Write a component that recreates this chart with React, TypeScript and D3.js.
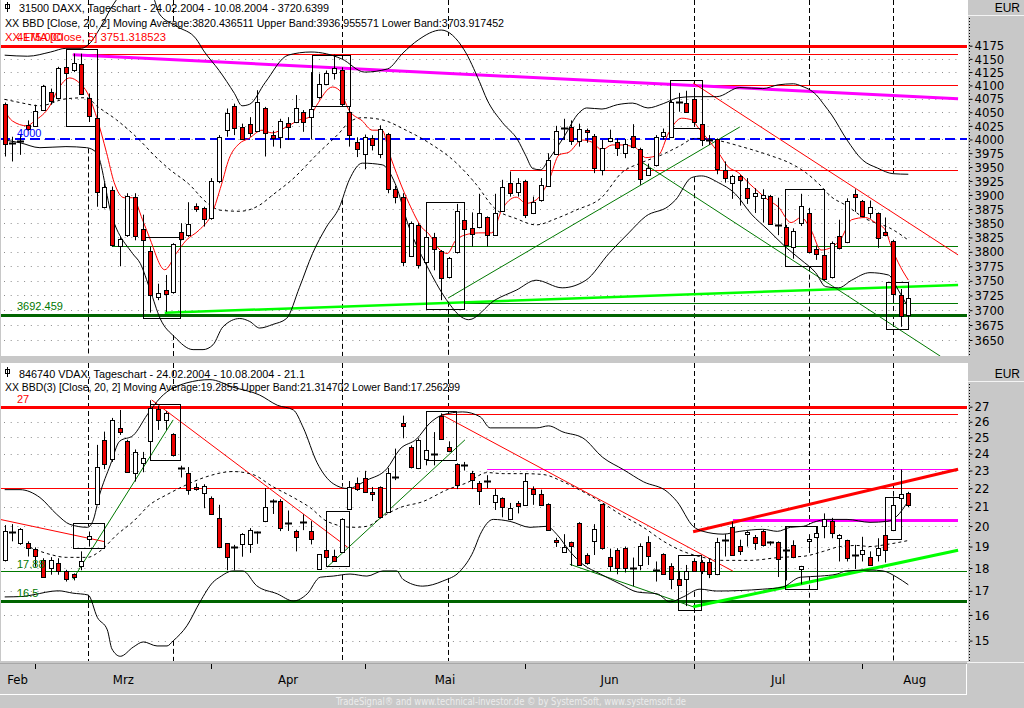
import React, { useEffect, useRef } from 'react';
import * as d3 from 'd3';

// DAX daily candles [open, high, low, close], 24.02.2004 - 10.08.2004
const daxOhlc: number[][] = [
  [4066, 4068, 3969, 3992], [3992, 4005, 3960, 3993], [3997, 4008, 3972, 3998], [4026, 4035, 4016, 4018],
  [4025, 4064, 4024, 4053], [4055, 4101, 4054, 4099], [4087, 4094, 4064, 4071], [4076, 4135, 4074, 4132],
  [4135, 4142, 4115, 4124], [4128, 4160, 4125, 4142], [4141, 4160, 4082, 4085], [4076, 4085, 4032, 4042],
  [4039, 4043, 3879, 3904], [3879, 3921, 3876, 3915], [3908, 3915, 3809, 3811], [3811, 3826, 3775, 3823],
  [3829, 3903, 3826, 3898], [3897, 3903, 3820, 3829], [3839, 3865, 3814, 3820], [3802, 3809, 3696, 3727],
  [3723, 3745, 3717, 3730], [3734, 3760, 3697, 3727], [3730, 3815, 3728, 3813], [3835, 3850, 3820, 3823],
  [3828, 3887, 3826, 3848], [3880, 3885, 3870, 3874], [3876, 3879, 3844, 3857], [3859, 3930, 3856, 3924],
  [3925, 4008, 3921, 4005], [4016, 4057, 4005, 4048], [4062, 4066, 4008, 4022], [4022, 4029, 3999, 4000],
  [4029, 4041, 4005, 4013], [4016, 4091, 4014, 4069], [4057, 4060, 3969, 4011], [4009, 4016, 3987, 4004],
  [4004, 4038, 3984, 4033], [4031, 4041, 3999, 4023], [4032, 4082, 4030, 4058], [4051, 4054, 4014, 4032],
  [4041, 4125, 4000, 4056], [4077, 4122, 4075, 4102], [4104, 4128, 4101, 4124], [4123, 4158, 4111, 4132],
  [4128, 4134, 4060, 4065], [4050, 4060, 3987, 4007], [3996, 4004, 3968, 3983], [3974, 4009, 3946, 4005],
  [4002, 4008, 3980, 3989], [3975, 4026, 3966, 4020], [4010, 4012, 3903, 3911], [3911, 3916, 3885, 3896],
  [3896, 3903, 3775, 3782], [3792, 3853, 3791, 3850], [3846, 3850, 3771, 3777], [3782, 3827, 3780, 3825],
  [3825, 3833, 3768, 3804], [3802, 3803, 3717, 3756], [3757, 3791, 3754, 3790], [3800, 3884, 3797, 3872],
  [3855, 3860, 3838, 3839], [3842, 3869, 3809, 3832], [3843, 3902, 3841, 3868], [3860, 3862, 3809, 3829],
  [3830, 3902, 3828, 3868], [3872, 3927, 3870, 3914], [3921, 3942, 3897, 3903], [3905, 3930, 3897, 3921],
  [3924, 3927, 3859, 3864], [3868, 3897, 3866, 3888], [3891, 3930, 3888, 3917], [3917, 3975, 3915, 3963],
  [3974, 4025, 3972, 4016], [4020, 4038, 3999, 4021], [4022, 4035, 3990, 3997], [3998, 4029, 3987, 4020],
  [4017, 4020, 3994, 4013], [4007, 4010, 3939, 3948], [3946, 3999, 3935, 3985], [3996, 4018, 3995, 4002],
  [3996, 4002, 3970, 3985], [3975, 4001, 3966, 3991], [4007, 4028, 3984, 3987], [3983, 3985, 3918, 3928],
  [3935, 3956, 3934, 3948], [3954, 4008, 3951, 4005], [4005, 4020, 4000, 4013], [4005, 4072, 4003, 4069],
  [4068, 4086, 4051, 4069], [4068, 4090, 4050, 4052], [4075, 4089, 4023, 4033], [4028, 4029, 3988, 3999],
  [3998, 4008, 3990, 3999], [4000, 4002, 3937, 3945], [3944, 3960, 3922, 3930], [3921, 3936, 3893, 3934],
  [3933, 3936, 3881, 3925], [3912, 3930, 3884, 3894], [3897, 3912, 3868, 3903], [3894, 3910, 3851, 3899],
  [3898, 3900, 3847, 3849], [3849, 3895, 3829, 3846], [3844, 3847, 3811, 3813], [3809, 3841, 3788, 3837],
  [3850, 3902, 3845, 3880], [3868, 3877, 3797, 3800], [3805, 3811, 3786, 3797], [3795, 3797, 3750, 3754],
  [3756, 3818, 3754, 3815], [3828, 3856, 3804, 3807], [3817, 3894, 3815, 3890], [3902, 3910, 3870, 3896],
  [3890, 3891, 3862, 3863], [3868, 3890, 3858, 3878], [3868, 3869, 3807, 3824], [3834, 3860, 3827, 3829],
  [3819, 3821, 3720, 3727], [3726, 3736, 3672, 3690], [3692, 3722, 3689, 3720.64],
];

// VDAX daily candles [open, high, low, close]
const vdaxOhlc: number[][] = [
  [18.38, 20.05, 18.3, 19.76], [19.68, 20.1, 19.25, 19.7], [19.16, 19.9, 19.08, 19.85], [19.16, 19.25, 18.53, 18.9],
  [18.88, 18.96, 18.06, 18.53], [18.38, 18.45, 17.6, 17.62], [18.0, 18.5, 17.7, 18.38], [18.22, 18.45, 17.7, 17.87],
  [17.87, 17.92, 17.4, 17.5], [17.72, 17.76, 17.45, 17.57], [18.09, 18.77, 17.9, 18.33], [19.37, 19.73, 19.0, 19.52],
  [21.18, 24.53, 21.15, 23.22], [24.82, 25.36, 23.08, 23.36], [23.66, 26.25, 23.5, 26.11], [25.6, 26.78, 25.15, 25.32],
  [24.8, 24.85, 22.9, 22.96], [22.9, 24.25, 22.37, 24.12], [23.46, 24.1, 22.9, 23.76], [24.78, 27.44, 24.74, 26.89],
  [26.84, 27.06, 25.47, 26.14], [26.1, 26.7, 25.47, 26.56], [25.2, 25.26, 23.82, 23.92], [23.15, 23.28, 22.6, 23.16],
  [22.88, 23.2, 21.64, 21.9], [22.07, 22.27, 21.86, 21.95], [21.78, 22.22, 20.92, 22.14], [21.49, 21.55, 20.57, 20.66],
  [20.42, 21.1, 18.92, 19.0], [19.16, 19.16, 17.9, 18.5], [18.99, 19.08, 17.9, 19.0], [19.12, 19.65, 18.52, 19.6],
  [19.13, 19.9, 18.7, 19.8], [19.69, 19.73, 19.13, 19.7], [20.24, 22.0, 20.2, 20.96], [21.3, 21.4, 20.62, 21.31],
  [21.3, 21.4, 19.75, 19.9], [20.15, 20.8, 19.76, 20.17], [19.76, 19.82, 18.77, 19.44], [20.15, 20.6, 19.8, 20.22],
  [19.77, 20.25, 19.1, 19.38], [17.96, 18.63, 17.96, 18.63], [18.85, 18.85, 18.15, 18.5], [18.57, 18.85, 18.34, 18.34],
  [18.77, 20.4, 18.77, 20.37], [20.86, 22.4, 20.83, 22.04], [22.3, 22.6, 21.85, 21.98], [22.58, 22.98, 21.75, 21.82],
  [21.78, 22.07, 21.3, 21.67], [22.06, 22.1, 20.4, 20.45], [20.75, 23.15, 20.7, 22.87], [22.6, 24.3, 22.45, 22.62],
  [25.92, 26.4, 24.94, 25.75], [24.37, 24.5, 23.12, 23.16], [23.16, 24.94, 23.08, 24.84], [23.68, 24.5, 23.3, 24.22],
  [23.98, 25.33, 23.3, 24.0], [26.4, 26.55, 24.84, 24.94], [24.42, 24.75, 24.08, 24.16], [23.36, 23.42, 21.95, 22.18],
  [23.31, 23.5, 23.0, 23.32], [22.88, 22.98, 21.95, 22.46], [22.3, 22.4, 21.09, 21.86], [22.38, 22.73, 22.0, 22.4],
  [21.2, 21.95, 20.83, 21.6], [21.45, 21.5, 20.45, 20.95], [20.38, 21.2, 20.3, 20.95], [21.18, 21.3, 20.65, 21.03],
  [21.09, 22.85, 21.09, 22.42], [21.95, 22.1, 21.1, 21.7], [21.7, 21.92, 21.1, 21.13], [21.13, 21.18, 19.77, 19.79],
  [19.33, 19.42, 18.98, 19.22], [18.74, 19.6, 18.7, 19.0], [19.22, 19.24, 18.1, 19.03], [20.15, 20.2, 18.11, 18.14],
  [18.6, 18.68, 18.15, 18.22], [19.25, 20.1, 18.6, 19.85], [21.13, 21.15, 18.85, 18.9], [18.5, 18.9, 17.85, 18.1],
  [18.84, 18.92, 17.72, 18.0], [18.95, 19.0, 17.8, 18.0], [17.92, 18.48, 17.2, 18.0], [18.14, 19.15, 17.9, 19.04],
  [19.24, 19.5, 18.14, 18.57], [17.91, 18.3, 17.4, 17.92], [18.63, 18.68, 17.7, 17.72], [18.1, 18.22, 17.07, 17.5],
  [17.53, 17.87, 17.22, 17.27], [17.53, 18.14, 16.36, 17.87], [18.32, 18.45, 17.83, 17.87], [18.28, 18.36, 17.73, 17.87],
  [18.28, 18.41, 17.55, 17.75], [17.7, 19.42, 17.68, 19.2], [19.22, 19.6, 18.53, 19.3], [19.97, 20.22, 18.56, 18.6],
  [19.04, 19.33, 18.6, 18.8], [19.6, 19.75, 19.0, 19.7], [19.47, 19.56, 18.84, 19.2], [19.75, 19.8, 19.0, 19.08],
  [19.2, 19.25, 19.05, 19.21], [19.2, 19.25, 17.6, 18.42], [18.84, 19.95, 17.45, 18.85], [19.08, 19.3, 18.45, 18.5],
  [17.96, 18.1, 17.28, 18.1], [19.25, 19.6, 18.7, 19.37], [19.48, 20.0, 19.4, 19.68], [20.0, 20.65, 19.4, 20.34],
  [20.26, 20.42, 19.4, 19.65], [19.37, 19.6, 18.3, 19.54], [19.3, 19.33, 18.3, 18.43], [18.58, 19.08, 17.96, 18.59],
  [18.64, 19.47, 18.3, 18.85], [18.5, 18.77, 18.1, 18.14], [18.64, 19.4, 18.3, 18.95], [19.54, 19.6, 18.25, 18.81],
  [19.79, 21.55, 19.75, 21.09], [21.5, 23.05, 21.2, 21.7], [21.75, 21.8, 20.98, 21.1],
];

// indicator lines: [day index, value]
const daxUpper = [
  [0, 4157], [3, 4155], [6, 4163], [8, 4170], [10, 4170], [11, 4178], [12.5, 4210], [14, 4250], [16, 4285], [18, 4290],
  [19.5, 4265], [20.2, 4236], [22.5, 4212], [25, 4188], [26, 4165], [28, 4128], [30, 4085], [31, 4062], [32, 4065],
  [34, 4105], [37, 4157], [40, 4163], [44, 4150], [47, 4125], [50, 4131], [52, 4161], [54, 4186], [57, 4205],
  [60, 4167], [62, 4107], [63, 4073], [65, 4031], [67, 3999], [68, 3972], [69, 3947], [70, 3945], [71, 3963],
  [73, 4004], [75, 4049], [76, 4058], [78, 4056], [80, 4064], [82, 4067], [84, 4058], [86, 4066], [88, 4077],
  [90, 4079], [93, 4079], [96, 4096], [99, 4094], [101, 4101], [103, 4103], [104, 4099], [106, 4082], [107, 4064],
  [108, 4045], [110, 3999], [112, 3963], [114, 3948], [116, 3938], [118, 3936.96],
];
const daxMiddle = [
  [0, 4074], [2, 4068], [4.6, 4062], [8, 4075], [10.7, 4077], [12, 4062], [14.6, 4036], [17.6, 3999], [19.6, 3970],
  [21.6, 3945], [24, 3920], [26.5, 3885], [28.1, 3873], [30.7, 3871], [33.3, 3882], [35, 3900], [37.5, 3927],
  [41, 3976], [43.7, 4012], [45, 4032], [46.7, 4040],
  [49.3, 4036], [52.4, 4017], [55.4, 3994], [59, 3957], [61.5, 3920], [64, 3876], [66.8, 3858], [69.4, 3847],
  [72, 3858], [74.6, 3873], [78, 3896], [80.6, 3940], [83, 3957], [85.8, 3972], [88, 3987], [90.2, 4002],
  [92.8, 3999], [96.2, 3987], [99.7, 3972], [102.7, 3956], [104.6, 3940], [106.3, 3920], [108, 3896], [109.8, 3882],
  [112.4, 3858], [115.8, 3840], [118, 3820.44],
];
const daxLower = [
  [0, 3999], [2, 3994], [4.6, 3985], [8, 3987], [10.7, 3985], [12, 3976], [14, 3862], [16.7, 3797], [17.7, 3780],
  [19, 3734], [20.3, 3686], [22.2, 3655], [24.6, 3634], [25.9, 3634], [27.2, 3642], [28.5, 3672], [30.7, 3686],
  [32, 3681], [33.3, 3670], [35, 3676], [36.8, 3686], [38.5, 3739],
  [40.2, 3797], [42, 3843], [43.7, 3878], [45, 3927], [46.7, 3957], [49.3, 3954], [51, 3920], [52.8, 3843],
  [55.4, 3769], [58, 3712], [59.7, 3688], [60.6, 3684], [64, 3717], [66.8, 3734], [69.4, 3751], [72.8, 3738],
  [75.9, 3751], [78.9, 3797], [81.5, 3833], [83.7, 3862], [86.7, 3880], [87.6, 3891], [89.7, 3931], [91, 3934],
  [93.2, 3922], [95.4, 3902], [97.5, 3866], [99.7, 3838], [102, 3808], [104, 3786], [105.9, 3764], [107.2, 3740],
  [108.9, 3738], [110.6, 3751], [113, 3764], [115.4, 3760], [116.7, 3734], [118, 3703.92],
];
const daxEma = [
  [0, 4053], [1, 4034], [2.9, 4025], [3.9, 4034], [5.9, 4062], [6.9, 4091], [8.5, 4114], [9.8, 4104], [10.8, 4086],
  [12, 4041], [13.3, 3976], [14.3, 3922], [15.6, 3895], [16.7, 3895], [18, 3856], [18.9, 3825], [20.9, 3769],
  [22.4, 3797], [23.7, 3820], [25.4, 3838], [27.1, 3868], [28.3, 3918], [29.3, 3965], [30.6, 3992], [31.9, 4002],
  [33.6, 4017], [34.9, 4012], [36.8, 4023], [38.5, 4036], [39.8, 4041], [40.7, 4062], [42.8, 4097], [43.7, 4091],
  [45, 4053], [46.7, 4034], [48, 4017], [49.3, 4017], [50.2, 3976], [51.5, 3927], [52.8, 3885], [54.5, 3842],
  [55.4, 3831], [56.7, 3805], [57.8, 3797], [58.9, 3820], [60.6, 3831], [61.9, 3833], [63.6, 3833], [64.9, 3873],
  [66.8, 3896], [68.1, 3885], [69.4, 3891], [71.1, 3927], [72.4, 3972], [73.7, 3977], [75.4, 3999], [76.7, 3995],
  [78, 3981], [79.3, 3990], [80.6, 3990], [82.4, 3985], [83.7, 3967], [85.4, 3972], [86.7, 4012], [88.4, 4039],
  [89.7, 4036], [90.6, 4021], [91.9, 3999], [93.2, 3976], [94.5, 3950], [95.8, 3940], [97.1, 3922], [98.4, 3906],
  [99.7, 3891], [101, 3879], [102.7, 3851], [104, 3860], [105.3, 3838], [106.6, 3803], [108, 3808], [109.3, 3825],
  [110.6, 3856], [112.4, 3860], [113.7, 3851], [115, 3838], [115.8, 3808], [116.7, 3781], [118, 3751.32],
];

const vdaxUpper = [
  [0, 21.92], [2, 21.92], [4.6, 21.49], [6.8, 20.6], [8.5, 20.09], [10.8, 19.94], [11.5, 20.24], [12.4, 21.65],
  [13.8, 23.33], [15, 24.75], [16.8, 25.13], [18.6, 26.45], [20.3, 27.6], [23.8, 28.67], [26.8, 28.9], [29.8, 28.36],
  [33.3, 27.8], [35.6, 27.1], [37.7, 26.78], [39, 25.6], [40.8, 23.45], [42.9, 22.25], [44.8, 21.98], [47.3, 22.45],
  [49.9, 23.1], [51.6, 24.26], [53.8, 24.9], [55.5, 25.9], [57.2, 26.45], [59.8, 26.65], [62.1, 26.32], [63.4, 25.6],
  [66.9, 25.6], [69.5, 25.6], [71, 25.73], [72.9, 25.34], [75.5, 24.96], [78.1, 23.77], [80.8, 23.05], [83.4, 22.36],
  [86.5, 21.81], [87.8, 21.27], [89.9, 19.99], [91.2, 19.74], [93.8, 19.6], [96, 19.74], [99, 19.84], [100.9, 19.74],
  [102.6, 19.94], [104.3, 19.99], [105.6, 20.19], [107.4, 20.34], [110, 20.34], [113, 20.19], [115.2, 20.24],
  [116.5, 20.5], [118, 21.31],
];
const vdaxMiddle = [
  [3.3, 18.96], [5.9, 18.63], [8.1, 18.49], [10.8, 18.49], [12.4, 18.77], [14.7, 19.59], [16.8, 20.24], [19, 21.12],
  [21.2, 21.65], [23.8, 22.2], [26.4, 22.65], [29.8, 22.94], [32.4, 22.77], [35, 22.09], [37.7, 21.49], [39.9, 20.95],
  [42.1, 20.24], [45.5, 19.94], [47.3, 19.99], [49.4, 20.5], [51.6, 20.95], [54.6, 21.27], [57.8, 21.92], [60.4, 22.31],
  [63, 22.88], [65.1, 22.82], [67.7, 22.82], [70.3, 22.77], [72.9, 22.36], [75.5, 21.81], [77.8, 21.27], [80.4, 20.6],
  [83.4, 19.94], [86, 19.26], [88.6, 18.77], [91.2, 18.49], [93.8, 18.35], [97.3, 18.35], [101.3, 18.49],
  [104.3, 18.54], [106.9, 18.77], [109.1, 19.0], [111.3, 19.05], [113, 19.0], [115.2, 19.1], [118, 19.29],
];
const vdaxLower = [
  [0, 16.74], [2.4, 16.76], [3.7, 16.83], [7, 17.0], [8.9, 16.9], [10.9, 16.82], [12.1, 15.9], [13.4, 15.41],
  [14, 14.69], [15.1, 14.42], [16.8, 14.76], [18.1, 14.95], [19.9, 14.8], [21.2, 14.8], [22, 14.99], [23.8, 15.57],
  [25.5, 16.53], [27.2, 17.37], [28.1, 17.6], [29.8, 17.87], [31.1, 17.87], [32.9, 17.22], [35.6, 16.87],
  [37.7, 16.57], [39.5, 16.87], [41.2, 17.59],
  [42.9, 17.64], [45.1, 17.73], [47.3, 17.64], [49.4, 17.87], [51.2, 17.87], [52, 17.5], [54.6, 17.2], [57.2, 17.42],
  [59.5, 17.87], [61.2, 18.77], [62.1, 19.59], [63.8, 20.34], [66, 20.24], [68.6, 19.94], [70.8, 19.99], [72.1, 19.59],
  [73.8, 18.77], [75.5, 18.17], [77.8, 17.73], [80.4, 17.29], [82.6, 16.95], [85.2, 16.87], [86.9, 16.53],
  [88.6, 16.74], [90.8, 17.07], [93, 16.99], [99, 17.07], [101.6, 17.16], [103.9, 17.59], [106.5, 17.64],
  [108.7, 17.73], [109.9, 17.87], [113, 17.91], [114.7, 17.87], [116.5, 17.59], [118, 17.26],
];

// drawn tools: levels [value, fromIndex], trend lines [[i, v], [i, v]], boxes [i0, i1, vTop, vBottom]
const daxResistance = 4175;
const daxBlueLevel = 4000;
const daxSupport = 3692.459;
const daxRedLevels = [[4160, 8.9], [4100, 89.9], [3945, 66]];
const daxGreenLevels = [[3810, 14], [3712, 60.1]];
const daxMagenta = [[8.9, 4158], [124.5, 4075]];
const daxLime = [[20.9, 3695.6], [124.5, 3743]];
const daxGreenTrends = [[[57.9, 3720.6], [96, 4022.9]], [[83.2, 3958.7], [122.2, 3623]]];
const daxRedTrends = [[[89.9, 4104.5], [124.5, 3794.6]]];
const daxBoxes = [
  [8.0, 12.05, 4168, 4024], [18.06, 22.9, 3825, 3686], [40.1, 45.0, 4157, 4062], [55.0, 60.0, 3887, 3702],
  [86.9, 91.1, 4110, 4021], [101.9, 107.0, 3911, 3776], [115.1, 118, 3748, 3669],
];
const daxCycles = [10.9, 22, 44.05, 57.9, 90, 105, 116];

const vdaxResistance = 27;
const vdaxRedLevels = [[26.51, 57.1], [22, -0.6]];
const vdaxMagentaThin = [[23.08, 63]];
const vdaxMagentaThick = [[20.32, 95.1]];
const vdaxGreenLevel = 17.88;
const vdaxSupport = 16.56;
const vdaxRedRise = [[89.9, 19.72], [124.5, 23.07]];
const vdaxLimeRise = [[89.9, 16.33], [124.5, 18.82]];
const vdaxRedTrends = [
  [[-0.6, 20.34], [13.1, 19.23]], [[19.2, 27.46], [44.8, 18.96]], [[57.1, 26.45], [95.1, 17.86]],
];
const vdaxGreenTrends = [
  [[8.9, 17.5], [22, 26.12]], [[42.1, 18.04], [60.1, 24.84]], [[73.8, 18.17], [89.9, 16.33]],
];
const vdaxBoxes = [
  [8.9, 13, 20.14, 18.92], [19, 22.9, 27.18, 23.63], [42, 45, 20.75, 18.08], [55, 58.9, 26.71, 23.63],
  [87.9, 90.9, 18.59, 16.2], [101.9, 106.1, 20.0, 17.07], [115, 117.1, 21.5, 19.36],
];
const vdaxCycles = [10.9, 22, 44.05, 57.9, 90, 105, 116];

const daxTicks = [3650, 3675, 3700, 3725, 3750, 3775, 3800, 3825, 3850, 3875, 3900, 3925, 3950, 3975, 4000,
  4025, 4050, 4075, 4100, 4125, 4150, 4175];
const vdaxTicks = [15, 16, 17, 18, 19, 20, 21, 22, 23, 24, 25, 26, 27];
const monthStarts = [4, 27, 47, 68, 90, 112];
const monthLabels = ['Feb', 'Mrz', 'Apr', 'Mai', 'Jun', 'Jul', 'Aug'];

const W = 1024;
const H = 708;
const PR = 967;
const GRAY = '#c8c8c8';
const RED = '#ff0000';
const CANDLE_RED = '#ee0000';
const MAGENTA = '#ff00ff';
const LIME = '#00ff00';
const DKGREEN = '#006400';
const GREEN = '#007800';
const FONT = "'Liberation Sans', Arial, sans-serif";
const NARROW = "'Liberation Sans Narrow', 'DejaVu Sans Condensed', sans-serif";

// value of a read-off line at a given day index (for placing the cycle markers)
const valueAt = (pts: number[][], i: number) => {
  for (let k = 0; k < pts.length - 1; k++) {
    const [i0, v0] = pts[k];
    const [i1, v1] = pts[k + 1];
    if (i >= i0 && i <= i1) return v0 + ((v1 - v0) * (i - i0)) / (i1 - i0);
  }
  return pts[pts.length - 1][1];
};

const App: React.FC = () => {
  const ref = useRef<SVGSVGElement | null>(null);

  useEffect(() => {
    const svg = d3.select(ref.current);
    svg.selectAll('*').remove();

    const x = d3.scaleLinear().domain([0, 118]).range([4.7, 908.3]);
    const yTop = d3.scaleLog().domain([3650, 4175]).range([340, 45.7]);
    const yBot = d3.scaleLog().domain([15, 27]).range([640.6, 406.7]);

    svg.append('rect').attr('width', W).attr('height', H).attr('fill', GRAY);

    const defs = svg.append('defs');
    defs.append('clipPath').attr('id', 'clipTop')
      .append('rect').attr('x', 1).attr('y', 0).attr('width', PR - 1).attr('height', 356);
    defs.append('clipPath').attr('id', 'clipBot')
      .append('rect').attr('x', 1).attr('y', 363).attr('width', PR - 1).attr('height', 298);

    const line = d3.line();
    const smooth = d3.line().curve(d3.curveMonotoneX);

    const drawPanel = (
      clip: string, y0: number, y1: number, y: any, ticks: number[], cycles: number[],
      upper: number[][], lower: number[][],
    ) => {
      svg.append('rect').attr('x', 1).attr('y', y0).attr('width', PR - 1).attr('height', y1 - y0).attr('fill', '#fff');
      const g = svg.append('g').attr('clip-path', `url(#${clip})`);
      // dotted grid
      g.append('g').selectAll('line').data(ticks).join('line')
        .attr('x1', 4).attr('x2', 958)
        .attr('y1', d => Math.round(y(d)) + 0.5).attr('y2', d => Math.round(y(d)) + 0.5)
        .attr('stroke', '#8c8c8c').attr('stroke-dasharray', '1,5.7');
      // cycle markers, drawn outside the bands
      const cg = g.append('g').attr('stroke', '#000').attr('stroke-dasharray', '5,3');
      cycles.forEach(c => {
        const cx = Math.round(x(c)) + 0.5;
        cg.append('line').attr('x1', cx).attr('x2', cx).attr('y1', y0).attr('y2', y(valueAt(upper, c)));
        cg.append('line').attr('x1', cx).attr('x2', cx).attr('y1', y(valueAt(lower, c))).attr('y2', y1);
      });
      return g;
    };

    const hline = (g: any, yv: number, x1: number, x2: number, color: string, w: number, dash?: string) => {
      const yy = w % 2 === 1 ? Math.round(yv) + 0.5 : Math.round(yv);
      g.append('line').attr('x1', x1).attr('x2', x2).attr('y1', yy).attr('y2', yy)
        .attr('stroke', color).attr('stroke-width', w).attr('stroke-dasharray', dash ?? null);
    };

    const path = (g: any, pts: number[][], y: any, color: string, w: number, gen = line, dash?: string) => {
      g.append('path')
        .attr('d', gen(pts.map(([i, v]) => [x(i), y(v)] as [number, number])))
        .attr('fill', 'none').attr('stroke', color).attr('stroke-width', w)
        .attr('stroke-dasharray', dash ?? null);
    };

    const boxes = (g: any, data: number[][], y: any) => {
      g.append('g').selectAll('rect').data(data).join('rect')
        .attr('x', (d: number[]) => Math.round(x(d[0])) + 0.5)
        .attr('y', (d: number[]) => Math.round(y(d[2])) + 0.5)
        .attr('width', (d: number[]) => Math.round(x(d[1]) - x(d[0])))
        .attr('height', (d: number[]) => Math.round(y(d[3]) - y(d[2])))
        .attr('fill', 'none').attr('stroke', '#000');
    };

    const candles = (g: any, data: number[][], y: any) => {
      const cg = g.append('g');
      cg.selectAll('line.wick').data(data).join('line').attr('class', 'wick')
        .attr('x1', (_: any, i: number) => Math.round(x(i)) + 0.5)
        .attr('x2', (_: any, i: number) => Math.round(x(i)) + 0.5)
        .attr('y1', (d: number[]) => y(d[1])).attr('y2', (d: number[]) => y(d[2]))
        .attr('stroke', '#000');
      const flat = (d: number[]) => Math.abs(y(d[0]) - y(d[3])) < 2;
      cg.selectAll('rect.body').data(data.map((d, i) => ({ d, i })).filter(o => !flat(o.d)))
        .join('rect').attr('class', 'body')
        .attr('x', (o: any) => Math.round(x(o.i)) - 2 + 0.5)
        .attr('y', (o: any) => Math.round(Math.min(y(o.d[0]), y(o.d[3]))) + 0.5)
        .attr('width', 4)
        .attr('height', (o: any) => Math.max(1, Math.round(Math.abs(y(o.d[0]) - y(o.d[3])))))
        .attr('fill', (o: any) => (o.d[3] < o.d[0] ? CANDLE_RED : '#fff'))
        .attr('stroke', '#000');
      cg.selectAll('line.doji').data(data.map((d, i) => ({ d, i })).filter(o => flat(o.d)))
        .join('line').attr('class', 'doji')
        .attr('x1', (o: any) => Math.round(x(o.i)) - 3).attr('x2', (o: any) => Math.round(x(o.i)) + 4)
        .attr('y1', (o: any) => Math.round(y(o.d[3])) + 0.5).attr('y2', (o: any) => Math.round(y(o.d[3])) + 0.5)
        .attr('stroke', '#000').attr('stroke-width', 2);
    };

    // ---------- DAX panel ----------
    const gt = drawPanel('clipTop', 0, 356, yTop, daxTicks, daxCycles, daxUpper, daxLower);
    hline(gt, yTop(daxResistance), 0, PR, RED, 3);
    daxRedLevels.forEach(([v, from]) => hline(gt, yTop(v), x(from), 958, RED, 1));
    hline(gt, yTop(daxBlueLevel), 0, PR, '#0000ff', 2, '10,5');
    daxGreenLevels.forEach(([v, from]) => hline(gt, yTop(v), x(from), 958, GREEN, 1));
    hline(gt, yTop(daxSupport), 0, PR, DKGREEN, 3);
    path(gt, daxMagenta, yTop, MAGENTA, 3);
    path(gt, daxLime, yTop, LIME, 2.5);
    daxGreenTrends.forEach(t => path(gt, t, yTop, GREEN, 1));
    daxRedTrends.forEach(t => path(gt, t, yTop, RED, 1));
    path(gt, daxUpper, yTop, '#000', 1, smooth);
    path(gt, daxMiddle, yTop, '#000', 1, smooth, '3,3');
    path(gt, daxLower, yTop, '#000', 1, smooth);
    path(gt, daxEma, yTop, RED, 1, smooth);
    boxes(gt, daxBoxes, yTop);
    candles(gt, daxOhlc, yTop);

    // ---------- VDAX panel ----------
    const gb = drawPanel('clipBot', 363, 661, yBot, vdaxTicks, vdaxCycles, vdaxUpper, vdaxLower);
    hline(gb, yBot(vdaxResistance), 0, PR, RED, 3);
    vdaxRedLevels.forEach(([v, from]) => hline(gb, yBot(v), Math.max(0, x(from)), 958, RED, 1));
    vdaxMagentaThin.forEach(([v, from]) => hline(gb, yBot(v), x(from), 958, MAGENTA, 1));
    vdaxMagentaThick.forEach(([v, from]) => hline(gb, yBot(v), x(from), 958, MAGENTA, 3));
    hline(gb, yBot(vdaxGreenLevel), 0, PR, GREEN, 1);
    hline(gb, yBot(vdaxSupport), 0, PR, DKGREEN, 3);
    path(gb, vdaxRedRise, yBot, RED, 3);
    path(gb, vdaxLimeRise, yBot, LIME, 3);
    vdaxRedTrends.forEach(t => path(gb, t, yBot, RED, 1));
    vdaxGreenTrends.forEach(t => path(gb, t, yBot, GREEN, 1));
    path(gb, vdaxUpper, yBot, '#000', 1, smooth);
    path(gb, vdaxMiddle, yBot, '#000', 1, smooth, '3,3');
    path(gb, vdaxLower, yBot, '#000', 1, smooth);
    boxes(gb, vdaxBoxes, yBot);
    candles(gb, vdaxOhlc, yBot);

    // ---------- right axes ----------
    const axisCol = (y0: number, y1: number, y: any, ticks: number[], eurBase: number, eurLine: number) => {
      svg.append('line').attr('x1', PR + 0.5).attr('x2', PR + 0.5).attr('y1', y0).attr('y2', y1)
        .attr('stroke', '#fff');
      svg.append('text').attr('x', 1020).attr('y', eurBase).attr('text-anchor', 'end')
        .attr('font-family', FONT).attr('font-size', 12).text('EUR');
      svg.append('line').attr('x1', PR + 1).attr('x2', W).attr('y1', eurLine + 0.5).attr('y2', eurLine + 0.5)
        .attr('stroke', '#f4f4f4');
      svg.append('line').attr('x1', 969.5).attr('x2', 969.5).attr('y1', eurLine + 3).attr('y2', y1)
        .attr('stroke', '#000').attr('stroke-dasharray', '1,2');
      const ax = svg.append('g').attr('transform', 'translate(969.5,0)')
        .call(d3.axisRight(y).tickValues(ticks).tickSize(3).tickSizeOuter(0).tickPadding(2)
          .tickFormat(d3.format('d') as any));
      ax.select('.domain').remove();
      ax.selectAll('text').attr('font-family', NARROW).attr('font-size', 13).attr('fill', '#000');
    };
    axisCol(0, 356, yTop, daxTicks, 12, 15);
    axisCol(363, 661, yBot, vdaxTicks, 378, 381);
    svg.append('line').attr('x1', PR).attr('x2', W).attr('y1', 662.5).attr('y2', 662.5).attr('stroke', '#f4f4f4');

    // ---------- time axis ----------
    svg.append('line').attr('x1', 0).attr('x2', PR).attr('y1', 663.5).attr('y2', 663.5).attr('stroke', '#a8a8a8');
    svg.append('line').attr('x1', 0).attr('x2', PR).attr('y1', 694.5).attr('y2', 694.5).attr('stroke', '#fff');
    svg.append('line').attr('x1', PR - 0.5).attr('x2', PR - 0.5).attr('y1', 664).attr('y2', 695).attr('stroke', '#fff');
    svg.append('g').selectAll('line').data(monthStarts).join('line')
      .attr('x1', d => Math.round(x(d)) + 0.5).attr('x2', d => Math.round(x(d)) + 0.5)
      .attr('y1', 664).attr('y2', 669).attr('stroke', '#000');
    const bounds = [0, ...monthStarts.map(d => x(d)), PR];
    svg.append('g').selectAll('text').data(monthLabels).join('text')
      .attr('x', (_, i) => (bounds[i] + bounds[i + 1]) / 2).attr('y', 684)
      .attr('text-anchor', 'middle').attr('font-family', NARROW).attr('font-size', 13)
      .text(d => d);

    svg.append('text').attr('x', 511).attr('y', 705).attr('text-anchor', 'middle')
      .attr('font-family', NARROW).attr('font-size', 10).attr('fill', '#ececec')
      .attr('textLength', 350).attr('lengthAdjust', 'spacingAndGlyphs')
      .text('TradeSignal\u00ae and www.technical-investor.de \u00a9 by SystemSoft, www.systemsoft.de');

    // ---------- headers & labels ----------
    const label = (tx: number, ty: number, s: string, color: string, len?: number) => {
      const t = svg.append('text').attr('x', tx).attr('y', ty).attr('font-family', FONT)
        .attr('font-size', 11).attr('fill', color).text(s);
      if (len) t.attr('textLength', len).attr('lengthAdjust', 'spacingAndGlyphs');
    };
    const icon = (top: number) => {
      svg.append('rect').attr('x', 5.5).attr('y', top + 2.5).attr('width', 4).attr('height', 4)
        .attr('fill', '#fff').attr('stroke', '#000');
      svg.append('line').attr('x1', 7.5).attr('x2', 7.5).attr('y1', top).attr('y2', top + 10).attr('stroke', '#000');
    };
    icon(2);
    label(19, 12, '31500  DAXX, Tageschart - 24.02.2004 - 10.08.2004 - 3720.6399', '#000', 310);
    label(5, 27, 'XX BBD [Close, 20, 2] Moving Average:3820.436511 Upper Band:3936.955571 Lower Band:3703.917452', '#000', 499);
    // the EMA legend and the 4175.000 level label overlap in the original screen
    label(5, 41, 'XX EMA [Close, 5] 3751.318523', RED, 161);
    label(17, 41, '4175.000', RED);
    label(17, 137, '4000', '#0000ff');
    label(17, 310, '3692.459', GREEN);

    icon(367);
    label(19, 378, '846740  VDAX, Tageschart - 24.02.2004 - 10.08.2004 - 21.1', '#000', 286);
    label(5, 391, 'XX BBD(3) [Close, 20, 2] Moving Average:19.2855 Upper Band:21.314702 Lower Band:17.256299', '#000', 455);
    label(17, 403, '27', RED);
    label(17, 568, '17.88', GREEN);
    label(17, 597, '16.5', GREEN);
  }, []);

  return (
    <svg ref={ref} width={W} height={H} style={{ position: 'absolute', left: 0, top: 0, display: 'block' }} />
  );
};

export default App;
